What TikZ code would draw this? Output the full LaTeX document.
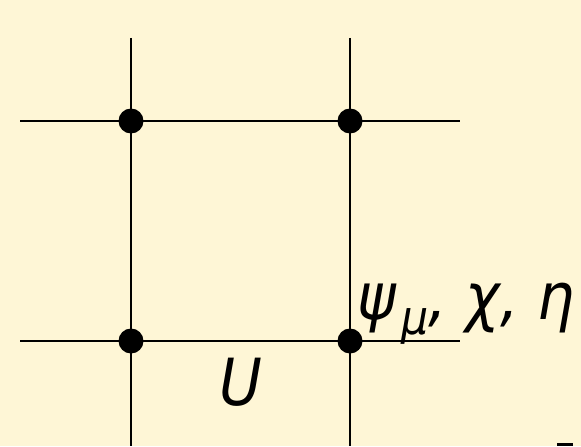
\documentclass[tikz,border=0pt]{standalone}
\usepackage{fontspec}
\setmainfont{DejaVu Sans}
\newfontfamily\lblfont[FakeStretch=0.9]{DejaVu Sans}
\definecolor{paper}{RGB}{254,246,214}
\tikzset{
    site/.style={circle, fill=black, inner sep=0pt, minimum size=25\px},
    link/.style={line width=2.4\px, black},
    lbl/.style={inner sep=0pt, font=\lblfont\fontsize{37}{40}\selectfont\itshape}
}
\newlength{\px}
\setlength{\px}{0.02cm}
\begin{document}
\begin{tikzpicture}[x=0.02cm, y=-0.02cm]

    % Background and frame
    \fill[paper] (0,0) rectangle (581,446);
    \useasboundingbox (0,0) rectangle (581,446);

    % Free ends of the lattice links
    \foreach \x/\n in {131/a, 350/b} {
        \coordinate (top\n) at (\x,38);
        \coordinate (bot\n) at (\x,446);
    }
    \foreach \y/\n in {121/a, 341/b} {
        \coordinate (left\n) at (20,\y);
        \coordinate (right\n) at (460,\y);
    }

    % Links
    \draw[link] (topa) -- (bota);
    \draw[link] (topb) -- (botb);
    \draw[link] (lefta) -- (righta);
    \draw[link] (leftb) -- (rightb);

    % Sites
    \node[site] (s1) at (131,121) {};
    \node[site] (s2) at (350,121) {};
    \node[site] (s3) at (131,341) {};
    \node[site] (s4) at (350,341) {};

    % Fields on the site and on the link
    \node[lbl, anchor=base west] (fields) at (357,319)
        {ψ\hspace{0.08em}\raisebox{-0.24em}{\fontsize{27}{30}\selectfont μ}, χ, η};
    \node[lbl, anchor=base] (link) at (241,405) {U};

    % Clipped mark at the lower edge
    \fill[black] (557,443) rectangle (573,446);

\end{tikzpicture}
\end{document}
